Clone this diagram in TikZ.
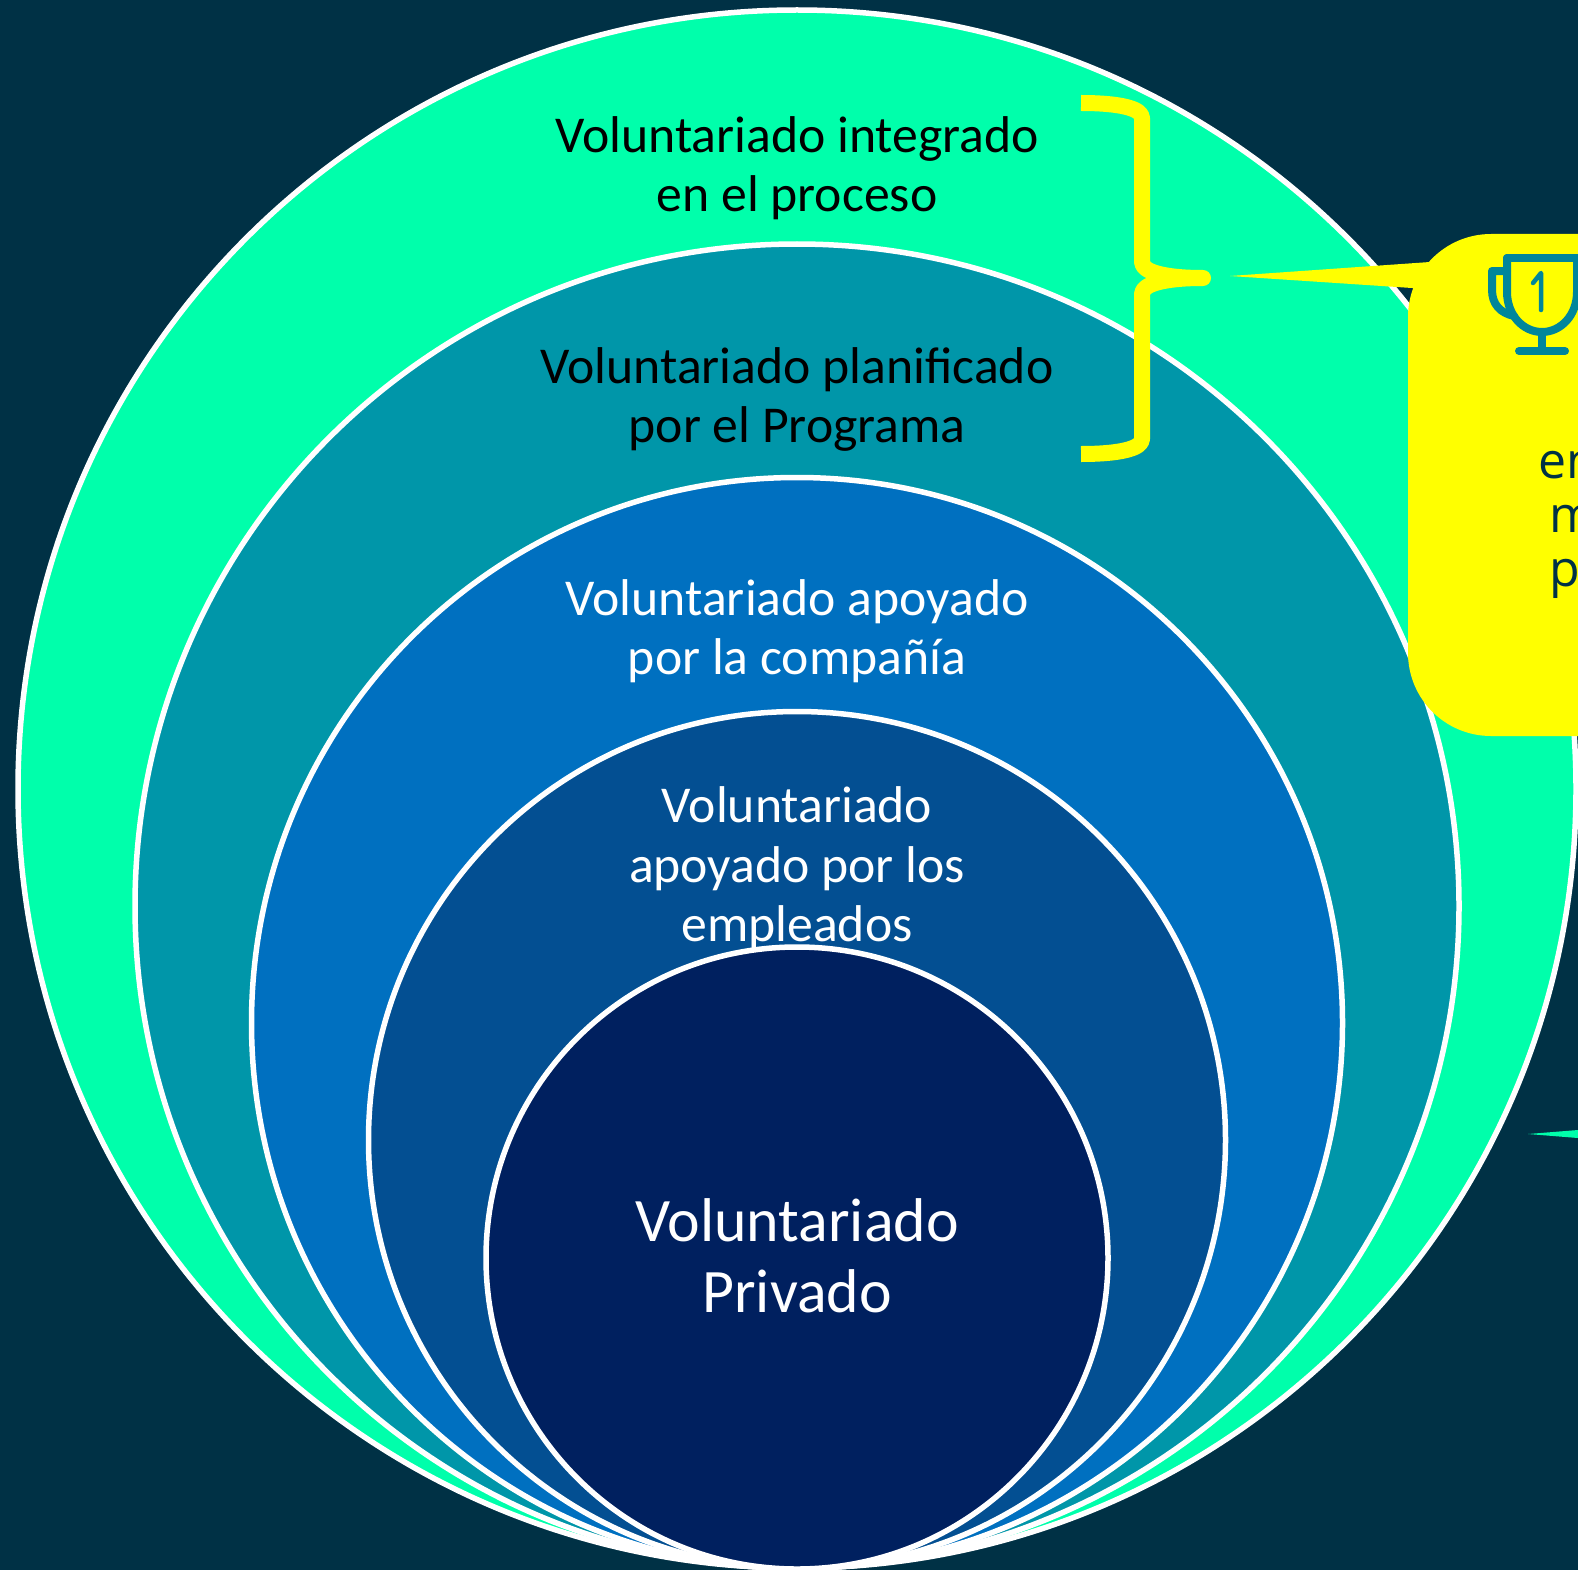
\documentclass[tikz,border=0pt]{standalone}
\usepackage{fontspec}
\setmainfont{Carlito}
\newfontfamily\calloutfont{Open Sans}
\definecolor{bgdark}{HTML}{003145}
\definecolor{ringgreen}{HTML}{00FFAB}
\definecolor{ringteal}{HTML}{0096A9}
\definecolor{ringblue}{HTML}{0070C0}
\definecolor{ringdeep}{HTML}{034F92}
\definecolor{ringnavy}{HTML}{00205F}
\definecolor{icon}{HTML}{00869B}
\definecolor{callyellow}{RGB}{255,255,0}
\tikzset{
  ring/.style={circle,draw=white,line width=5.5pt,inner sep=0pt,outer sep=0pt},
  lab/.style={align=center,font=\fontsize{51.7}{59.4}\selectfont},
  calltext/.style={anchor=base west,text=bgdark,inner sep=0pt,font=\calloutfont\fontsize{50}{55}\selectfont},
  iconline/.style={draw=icon,line width=8pt,line cap=round,line join=round}
}
\begin{document}
\begin{tikzpicture}[x=1pt,y=-1pt]
\useasboundingbox (0,0) rectangle (1578,1570);
\clip (0,0) rectangle (1578,1570);
\fill[bgdark] (0,0) rectangle (1578,1570);
\node[ring,fill=ringgreen,minimum size=1558pt] (r1) at (797,789) {};
\node[ring,fill=ringteal,minimum size=1324pt] (r2) at (797,906) {};
\node[ring,fill=ringblue,minimum size=1091pt] (r3) at (797,1023) {};
\node[ring,fill=ringdeep,minimum size=857pt] (r4) at (797,1140) {};
\node[lab,text=black] (t1) at (797,168) {Voluntariado integrado\\en el proceso};
\node[lab,text=black] (t2) at (797,399.5) {Voluntariado planificado\\por el Programa};
\node[lab,text=white] (t3) at (797,631) {Voluntariado apoyado\\por la compañía};
\node[lab,text=white] (t4) at (797,868.5) {Voluntariado\\apoyado por los\\empleados};
\node[ring,fill=ringnavy,minimum size=622pt] (r5) at (797,1258) {};
\node[align=center,text=white,font=\fontsize{61.8}{70.5}\selectfont] (t5) at (797,1256) {Voluntariado\\Privado};
% brace
\draw[draw=callyellow,line width=16pt,line join=round]
  (1081,103) .. controls (1118,103) and (1142,108) .. (1142,118)
  -- (1142,262) .. controls (1142,272) and (1165,278) .. (1203,278)
  .. controls (1165,278) and (1142,284) .. (1142,294)
  -- (1142,439) .. controls (1142,449) and (1118,454) .. (1081,454);
% callout
\coordinate (tip) at (1230,276);
\node[draw=none,fill=callyellow,rounded corners=83pt,anchor=north west,minimum width=420pt,minimum height=502pt,inner sep=0pt,outer sep=0pt] (callout) at (1408,234) {};
\fill[callyellow] (tip) -- (1430,262) -- (1460,262) -- (1460,300) -- (1412,288) -- cycle;
% trophy
\draw[iconline] (1507,258) -- (1578,258);
\draw[iconline] (1507,258) -- (1507,292) .. controls (1507,315) and (1523,332) .. (1542,332) .. controls (1561,332) and (1577,315) .. (1577,292) -- (1577,258);
\draw[iconline] (1507,271) -- (1492,271) -- (1492,290) .. controls (1492,304) and (1500,313) .. (1514,316);
\draw[iconline,line cap=butt] (1542,332) -- (1542,351);
\draw[iconline] (1519,351) -- (1565,351);
\draw[draw=icon,line width=4.5pt,line cap=round,line join=round] (1533,283) -- (1541,273) -- (1541,310);
% callout text
\node[calltext] (c1) at (1538,478) {en};
\node[calltext] (c2) at (1549,532) {m};
\node[calltext] (c3) at (1549,586) {p};
% second callout tip
\coordinate (tip2) at (1528,1134);
\fill[ringgreen] (tip2) -- (1578,1130) -- (1578,1138) -- cycle;
\end{tikzpicture}
\end{document}
